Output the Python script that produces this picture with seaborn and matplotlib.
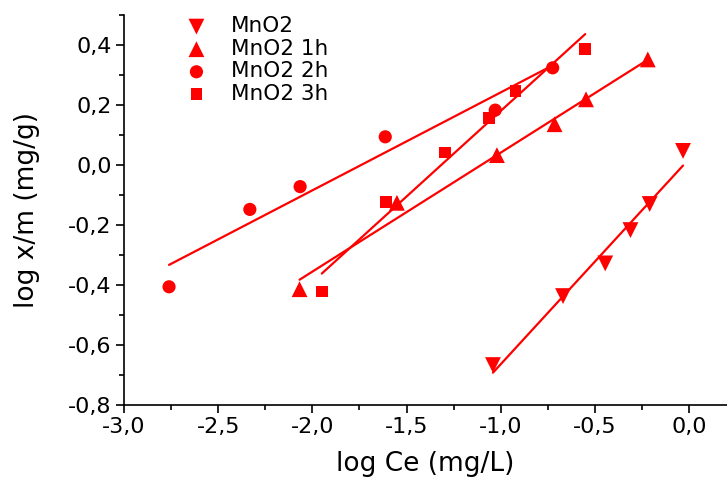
import numpy as np
import pandas as pd
import seaborn as sns
import matplotlib
matplotlib.use("Agg")
import matplotlib.pyplot as plt
from matplotlib.ticker import FuncFormatter, MultipleLocator

# data
x_mno2 = [-1.041, -0.669, -0.445, -0.311, -0.209, -0.032]
y_mno2 = [-0.667, -0.437, -0.328, -0.217, -0.130, 0.047]

x_1h = [-2.068, -1.551, -1.020, -0.714, -0.547, -0.219]
y_1h = [-0.414, -0.126, 0.033, 0.136, 0.219, 0.352]

x_2h = [-2.761, -2.332, -2.065, -1.613, -1.029, -0.724]
y_2h = [-0.406, -0.148, -0.072, 0.094, 0.183, 0.324]

x_3h = [-1.950, -1.608, -1.294, -1.064, -0.922, -0.551]
y_3h = [-0.422, -0.122, 0.042, 0.156, 0.248, 0.387]

series_names = ["MnO2", "MnO2 1h", "MnO2 2h", "MnO2 3h"]

sns.set_theme(style="ticks")
plt.rcParams['font.family'] = ['DejaVu Sans']
plt.rcParams['text.color'] = 'black'
plt.rcParams['axes.labelcolor'] = 'black'
plt.rcParams['xtick.color'] = 'black'
plt.rcParams['ytick.color'] = 'black'

fig = plt.figure(figsize=(7.27, 4.82), dpi=100)
ax = fig.add_axes([0.1706, 0.1598, 0.829, 0.809])

red = "#ff0000"
specs = [
    (x_mno2, y_mno2, "v", 130),
    (x_1h, y_1h, "^", 130),
    (x_2h, y_2h, "o", 90),
    (x_3h, y_3h, "s", 72),
]
handles = []
for (xs, ys, mk, sz), name in zip(specs, series_names):
    df = pd.DataFrame({"x": xs, "y": ys})
    sns.regplot(data=df, x="x", y="y", ax=ax, ci=None, truncate=True, marker=mk,
                scatter_kws=dict(s=sz, color=red, alpha=1, edgecolors="none", linewidths=0),
                line_kws=dict(color=red, lw=1.6))
    h = ax.scatter([], [], marker=mk, s=sz, color=red, edgecolors="none", label=name)
    handles.append(h)

ax.set_xlim(-3.0, 0.2)
ax.set_ylim(-0.8, 0.5)
ax.xaxis.set_major_locator(MultipleLocator(0.5))
ax.xaxis.set_minor_locator(MultipleLocator(0.25))
ax.yaxis.set_major_locator(MultipleLocator(0.2))
ax.yaxis.set_minor_locator(MultipleLocator(0.1))
fmt = FuncFormatter(lambda v, p: f"{v:.1f}".replace(".", ",").replace("-0,0", "0,0"))
ax.xaxis.set_major_formatter(fmt)
ax.yaxis.set_major_formatter(fmt)

for s in ["top", "right"]:
    ax.spines[s].set_visible(False)
for s in ["left", "bottom"]:
    ax.spines[s].set_linewidth(1.2)
    ax.spines[s].set_color("black")

ax.tick_params(axis="both", which="major", direction="out", length=6, width=1.2,
               labelsize=16, colors="black", pad=3)
ax.tick_params(axis="both", which="minor", direction="out", length=3.5, width=1.2,
               colors="black")

ax.set_xlabel("log Ce (mg/L)", fontsize=19, labelpad=10, color="black")
ax.set_ylabel("log x/m (mg/g)", fontsize=19, labelpad=20, color="black")

leg = ax.legend(handles=handles, loc="upper left", bbox_to_anchor=(0.063, 1.03),
                frameon=False, fontsize=15.5, handletextpad=0.6, labelspacing=0.12,
                borderaxespad=0.2)
for t in leg.get_texts():
    t.set_color("black")

fig.savefig("out.png", dpi=100)
